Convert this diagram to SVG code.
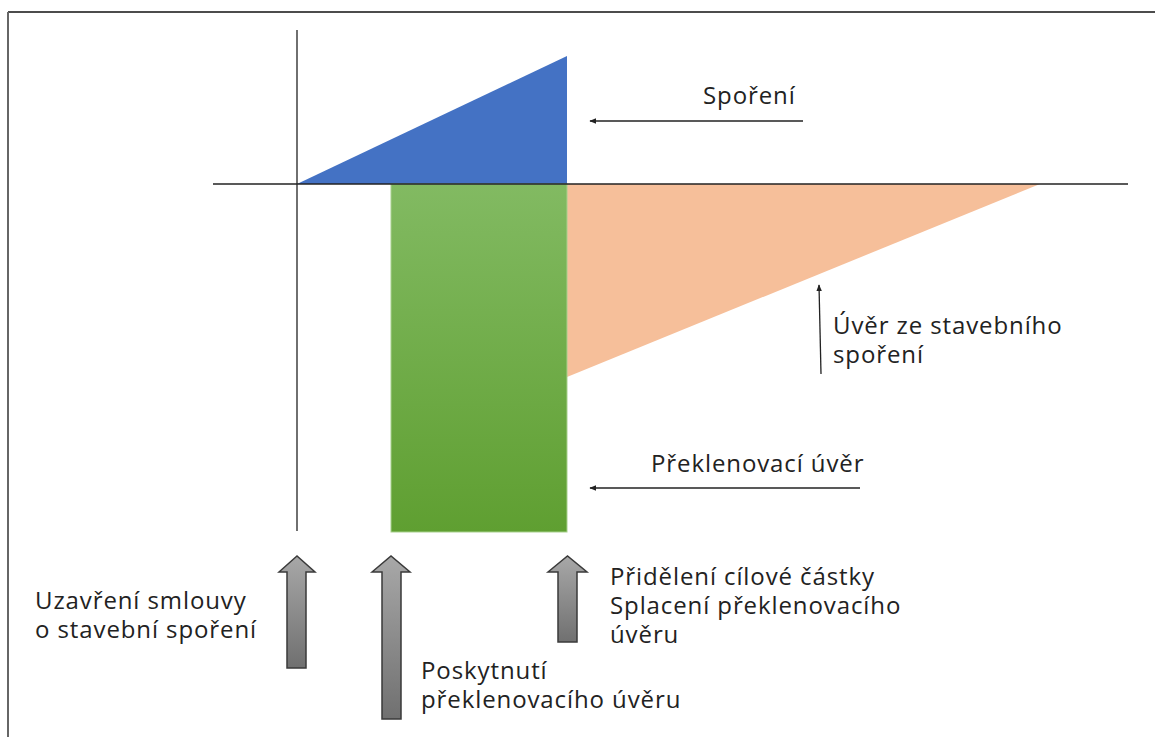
<svg xmlns="http://www.w3.org/2000/svg" width="1155" height="737" viewBox="0 0 1155 737">
<style>
.t{font-family:"Open Sans","DejaVu Sans",sans-serif;font-size:24px;letter-spacing:0.9px;fill:#222}
.ax{stroke:#222;stroke-width:1.3;fill:none}
.con{stroke:#222;stroke-width:1.3;fill:none}
.blk{fill:url(#gg);stroke:#3a3a3a;stroke-width:1.5}
</style>
<defs>
<linearGradient id="gr" x1="0" y1="0" x2="0" y2="1">
<stop offset="0" stop-color="#82ba62"/>
<stop offset="1" stop-color="#5f9f31"/>
</linearGradient>
<linearGradient id="gg" x1="0" y1="0" x2="0" y2="1">
<stop offset="0" stop-color="#a8a8a8"/>
<stop offset="1" stop-color="#707070"/>
</linearGradient>
<marker id="ah" viewBox="0 0 10 10" refX="9" refY="5" markerWidth="7" markerHeight="7" orient="auto" markerUnits="userSpaceOnUse">
<path d="M0,1 L10,5 L0,9 Z" fill="#222"/>
</marker>
</defs>
<rect width="1155" height="737" fill="#fff"/>
<g id="frame">
<line x1="8" y1="12" x2="1155" y2="12" stroke="#111" stroke-width="1.5"/>
<line x1="8" y1="12" x2="8" y2="737" stroke="#666" stroke-width="2"/>
</g>
<g id="shapes">
<polygon id="sporeni-shape" points="297,184 567,56 567,184" fill="#4472c4"/>
<polygon id="uver-shape" points="567,184 1040,184 567,377" fill="#f6bf9a"/>
<rect id="preklenovaci-shape" x="391" y="184" width="176" height="348" fill="url(#gr)" stroke="#a8d08d" stroke-width="1"/>
</g>
<g id="axes">
<line class="ax" x1="297" y1="30" x2="297" y2="531"/>
<line class="ax" x1="213" y1="184" x2="1128" y2="184"/>
</g>
<g id="connectors">
<line class="con" x1="803" y1="121" x2="590" y2="121" marker-end="url(#ah)"/>
<line class="con" x1="860" y1="488" x2="590" y2="488" marker-end="url(#ah)"/>
<line class="con" x1="821" y1="374" x2="819" y2="285" marker-end="url(#ah)"/>
</g>
<g id="block-arrows">
<path class="blk" d="M279,572 L297,556 L315,572 L306,572 L306,668 L287,668 L287,572 Z"/>
<path class="blk" d="M372,572 L391,556 L410,572 L401,572 L401,719 L382,719 L382,572 Z"/>
<path class="blk" d="M548,572 L567.5,556 L587,572 L577,572 L577,642 L558,642 L558,572 Z"/>
</g>
<g id="label-sporeni"><text class="t" x="703" y="104">Spoření</text></g>
<g id="label-preklenovaci"><text class="t" x="651" y="472">Překlenovací úvěr</text></g>
<g id="label-uver"><text class="t" x="833" y="334">Úvěr ze stavebního<tspan x="833" dy="29">spoření</tspan></text></g>
<g id="label-uzavreni"><text class="t" x="35" y="609">Uzavření smlouvy<tspan x="35" dy="29">o stavební spoření</tspan></text></g>
<g id="label-poskytnuti"><text class="t" x="421" y="679">Poskytnutí<tspan x="421" dy="29">překlenovacího úvěru</tspan></text></g>
<g id="label-prideleni"><text class="t" x="610" y="585">Přidělení cílové částky<tspan x="610" dy="29">Splacení překlenovacího</tspan><tspan x="610" dy="29">úvěru</tspan></text></g>
</svg>
